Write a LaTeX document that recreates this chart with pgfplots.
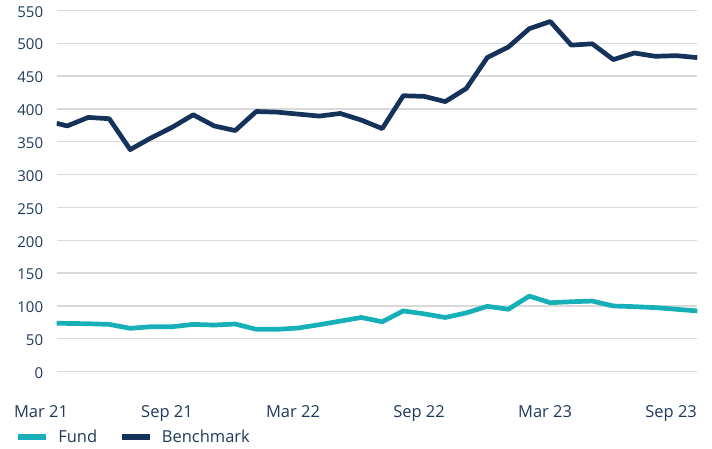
\documentclass[border=0pt]{standalone}
\usepackage{pgfplots}
\pgfplotsset{compat=1.18}
\usepackage{fontspec}
\setmainfont{Open Sans}
\definecolor{benchc}{HTML}{15325A}
\definecolor{fundc}{HTML}{17B0B8}
\definecolor{txtc}{HTML}{1F3A5C}
\definecolor{gridc}{HTML}{D9D9D9}
\begin{document}
\begin{tikzpicture}[x=1pt,y=1pt]
\useasboundingbox (0,0) rectangle (712,448);
\begin{axis}[
  at={(56.7pt,76.3pt)}, anchor=south west,
  scale only axis, width=640.6pt, height=361.4pt,
  xmin=0, xmax=30.5, ymin=0, ymax=550,
  axis line style={draw=none},
  major tick length=0pt,
  ytick={0,50,...,550},
  xtick={0,6,...,30},
  xticklabels={Mar 21, Sep 21, Mar 22, Sep 22, Mar 23, Sep 23},
  ymajorgrids, grid style={gridc, line width=1.3pt},
  /pgf/number format/assume math mode=true,
  yticklabel style={anchor=east, inner sep=0pt, xshift=-13.4pt, yshift=-1.4pt, font=\fontsize{15}{18}\selectfont, text=txtc},
  xticklabel style={anchor=base, inner sep=0pt, xshift=-15.7pt, yshift=-45.6pt, font=\fontsize{16.5}{19}\selectfont, text=txtc},
  legend columns=2,
  legend style={at={(-0.0651,-0.1799)}, anchor=west, draw=none, fill=none, inner sep=0pt, outer sep=0pt,
    font=\fontsize{16.5}{19}\selectfont, text=txtc,
    nodes={inner sep=0pt},
    /tikz/every odd column/.append style={column sep=9.3pt},
    /tikz/every even column/.append style={column sep=21.4pt}},
  legend image code/.code={\draw[#1, line width=6pt] (0pt,0pt) -- (28pt,0pt);},
]
\addplot[fundc, line width=4.7pt, line join=round] coordinates {
(0,73.7) (0.5,73.5) (1.5,73) (2.5,72) (3.5,66) (4.5,68.5) (5.5,68.5) (6.5,72)
(7.5,71) (8.5,72.6) (9.5,64.5) (10.5,64.5) (11.5,66.5) (12.5,71.5) (13.5,77) (14.5,82.5)
(15.5,76) (16.5,92.5) (17.5,88) (18.5,82.5) (19.5,89.5) (20.5,99.5) (21.5,95) (22.5,115)
(23.5,105) (24.5,106.5) (25.5,107.5) (26.5,100) (27.5,99) (28.5,97.5) (29.5,95) (30.5,92.5)
};
\addlegendentry{Fund}
\addplot[benchc, line width=4.7pt, line join=round] coordinates {
(0,378) (0.5,374) (1.5,387) (2.5,385) (3.5,338) (4.5,356) (5.5,372) (6.5,391)
(7.5,374) (8.5,367) (9.5,396) (10.5,395) (11.5,392) (12.5,389) (13.5,393) (14.5,383)
(15.5,370) (16.5,420) (17.5,419) (18.5,411) (19.5,431) (20.5,478) (21.5,494) (22.5,522)
(23.5,533) (24.5,497) (25.5,499) (26.5,475) (27.5,485) (28.5,480) (29.5,481) (30.5,478)
};
\addlegendentry{Benchmark}
\end{axis}
\end{tikzpicture}
\end{document}
